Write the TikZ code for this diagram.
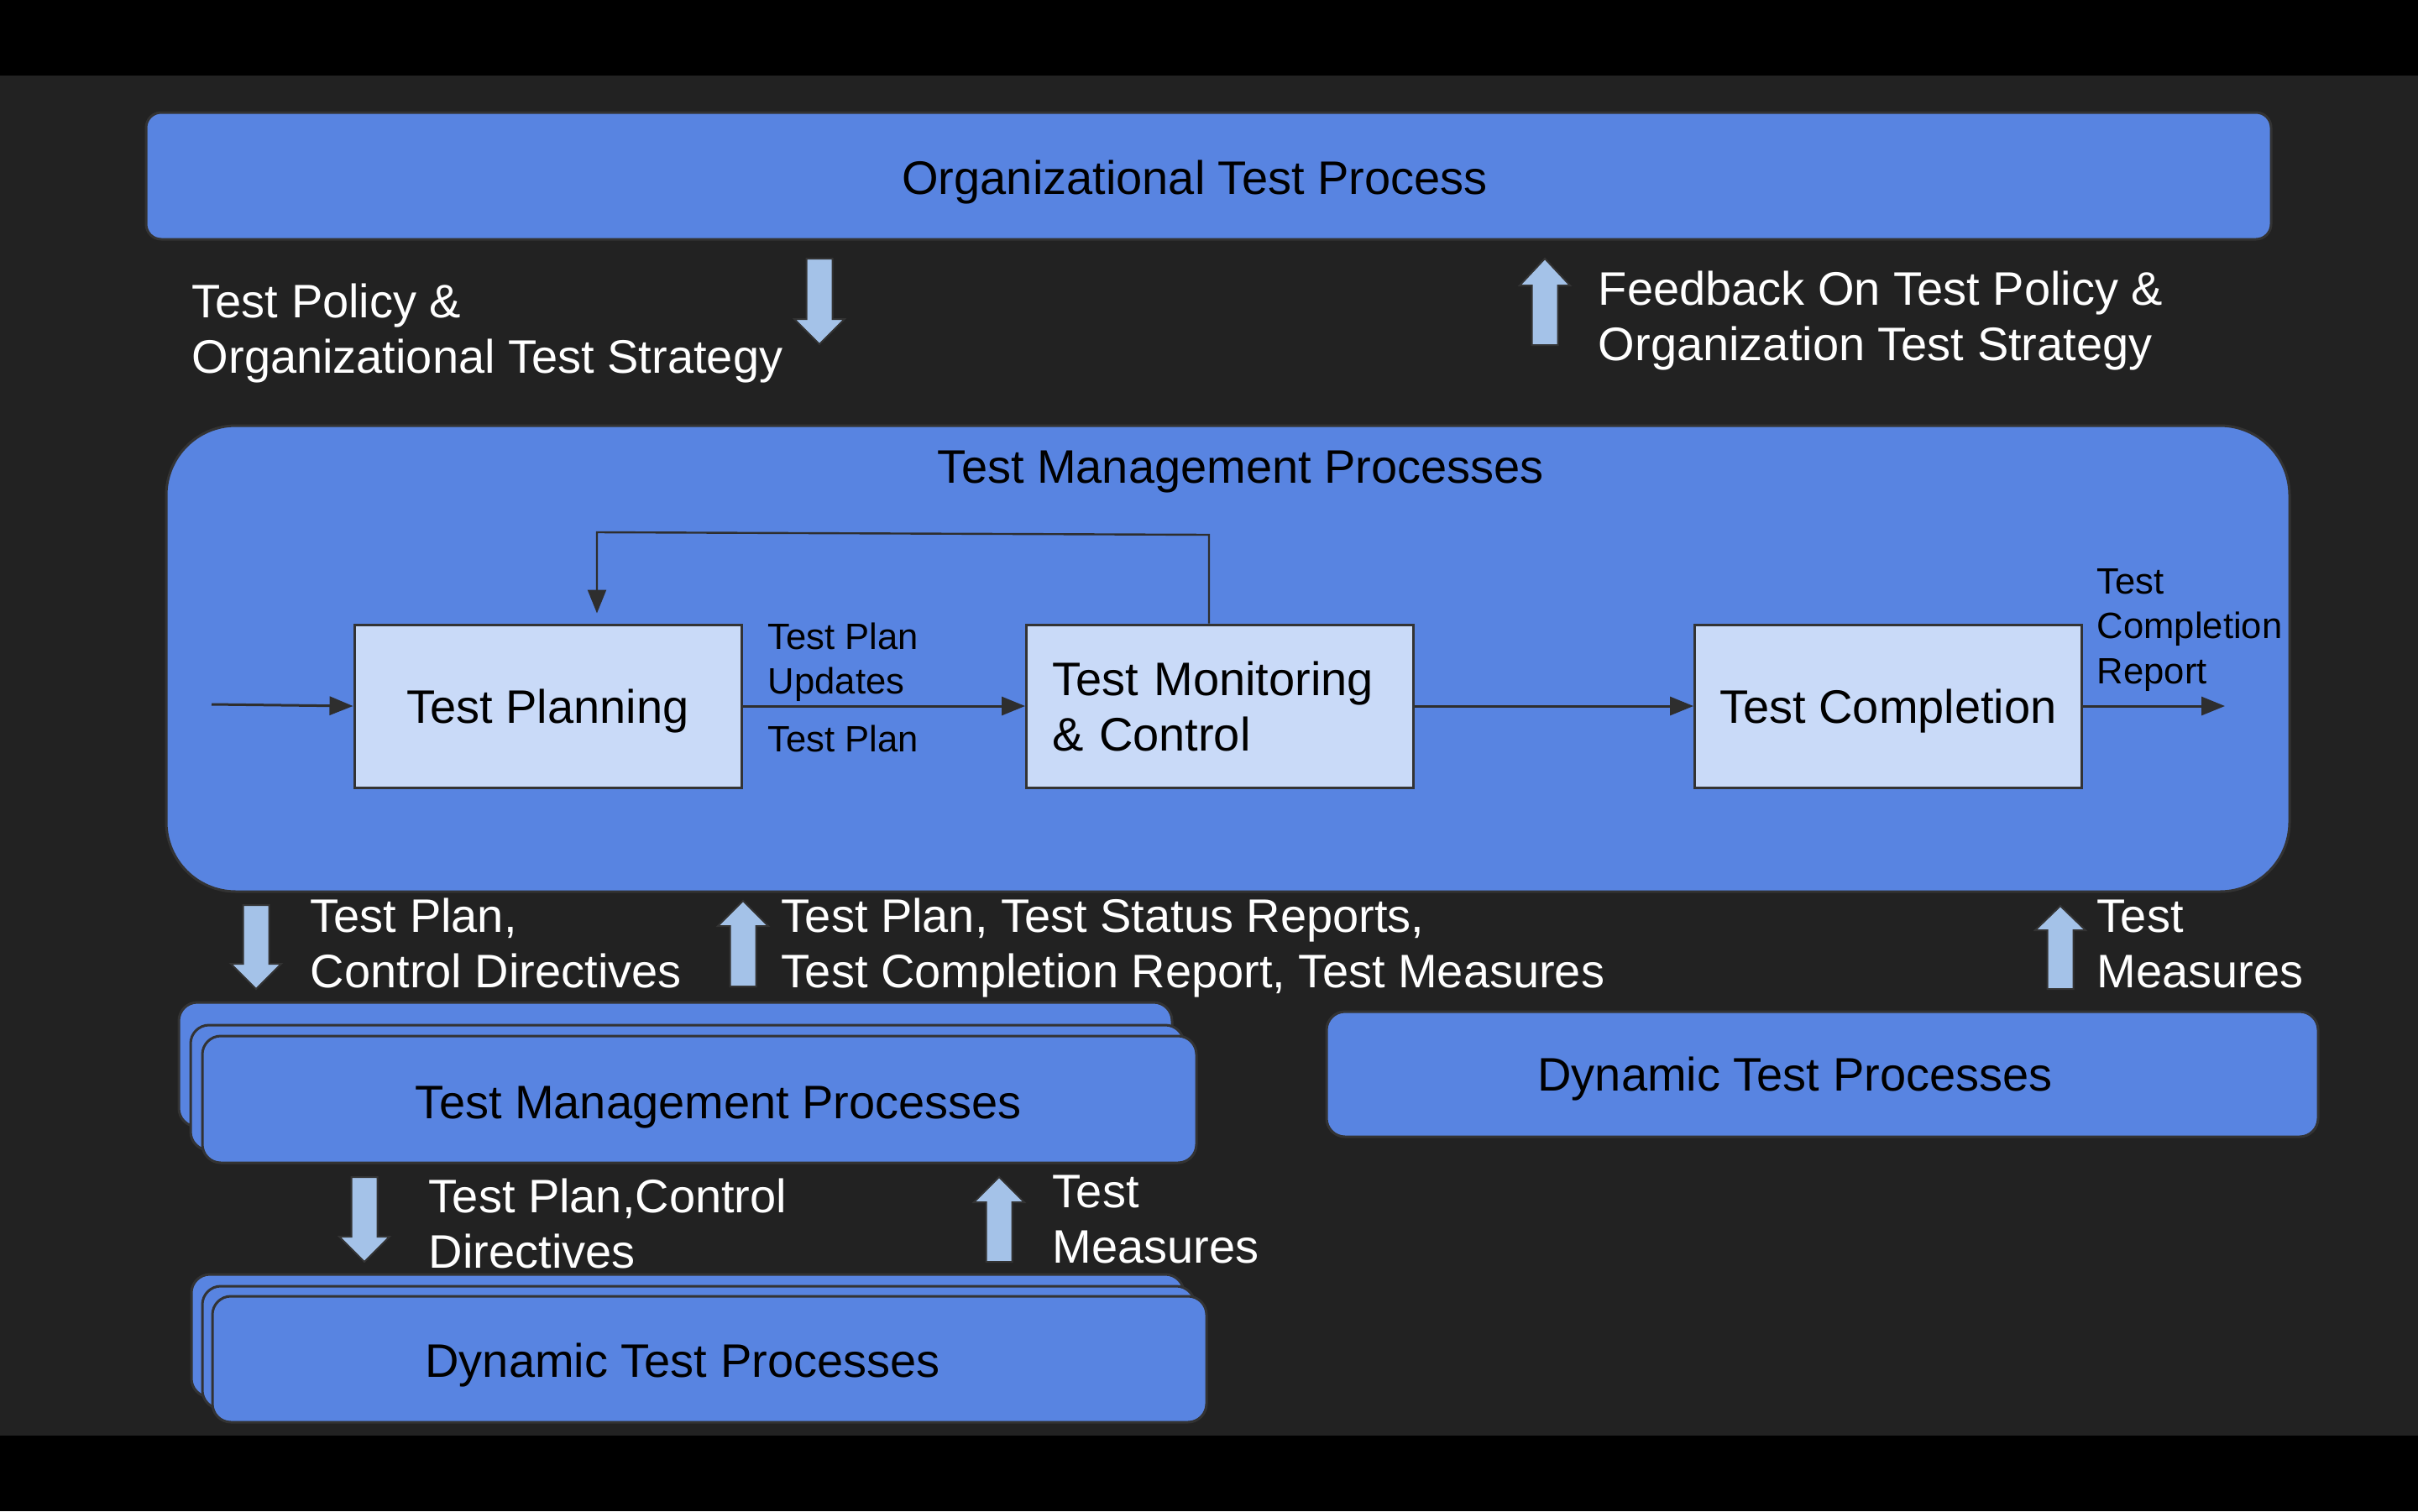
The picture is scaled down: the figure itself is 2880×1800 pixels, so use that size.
\documentclass[tikz,border=0pt]{standalone}
\usepackage{fontspec}
\setmainfont{Liberation Sans}
\usetikzlibrary{arrows.meta,fit}
\definecolor{bgdark}{HTML}{222222}
\definecolor{boxblue}{HTML}{5884E1}
\definecolor{lightbox}{HTML}{C9DAF8}
\definecolor{arrowblue}{HTML}{A4C2E8}
\definecolor{edgedark}{HTML}{333333}
\definecolor{linedark}{HTML}{2E2E2E}
\tikzset{
 bluebox/.style={fill=boxblue, draw=edgedark, line width=0.75pt, inner sep=0pt},
 stackbox/.style={bluebox, rounded corners=5.5pt},
 bigtext/.style={font=\fontsize{14}{16.5}\selectfont, inner sep=0pt},
 smalltext/.style={font=\fontsize{10.9}{13.4}\selectfont, inner sep=0pt},
 procbox/.style={bigtext, fill=lightbox, draw=edgedark, line width=0.75pt, minimum width=115.25pt, minimum height=48.5pt},
 whitetext/.style={bigtext, text=white, anchor=base west},
 labeltext/.style={smalltext, anchor=base west},
 conn/.style={draw=linedark, line width=0.75pt, -{Triangle[length=7pt,width=5.5pt]}},
 loopconn/.style={draw=linedark, line width=0.6pt, -{Triangle[length=7pt,width=5.5pt]}},
 blockarrow/.style={fill=arrowblue, draw=edgedark, line width=0.5pt},
}
\newcommand{\blockarr}[4]{%
 \path[blockarrow] ({#1-15.5},#2) -- ({#1+15.5},#2) -- ({#1+15.5},#3) -- ({#1+30},#3) -- (#1,#4) -- ({#1-30},#3) -- ({#1-15.5},#3) -- cycle;}
\begin{document}
\begin{tikzpicture}[x=0.25pt,y=-0.25pt]
\useasboundingbox (0,0) rectangle (2880,1800);
\fill[black] (0,0) rectangle (2880,1800);
\fill[bgdark] (0,90) rectangle (2880,1710);

% Organizational Test Process
\node[bluebox, rounded corners=4.5pt, fit={(174,134)(2705,285)}] (org) {};
\node[bigtext, anchor=base] (orgtext) at (1423,231) {Organizational Test Process};

\node[whitetext] (policy) at (228,378) {\begin{tabular}[t]{@{}l@{}}Test Policy \&\\Organizational Test Strategy\end{tabular}};
\blockarr{976}{308}{380}{410}
\blockarr{1840}{411}{340}{308}
\node[whitetext] (feedback) at (1903,363) {\begin{tabular}[t]{@{}l@{}}Feedback On Test Policy \&\\Organization Test Strategy\end{tabular}};

% Test Management Processes (big)
\node[bluebox, rounded corners=20.75pt, fit={(198,507)(2727,1062)}] (tmp) {};
\node[bigtext, anchor=base] (tmptitle) at (1478,575) {Test Management Processes};

\node[procbox, text depth=0pt] (tp) at (652.5,841) {Test Planning};
\node[procbox, text width=100pt, align=left] (tmc) at (1453,841) {Test Monitoring\\\& Control};
\node[procbox, text depth=0pt] (tc) at (2249,841) {Test Completion};

\node[labeltext] (lblupd) at (914,773) {\begin{tabular}[t]{@{}l@{}}Test Plan\\Updates\end{tabular}};
\node[labeltext] (lblplan) at (914,895) {Test Plan};
\node[labeltext] (lblreport) at (2497,707) {\begin{tabular}[t]{@{}l@{}}Test\\Completion\\Report\end{tabular}};

\coordinate (in) at (252,839);
\coordinate (out) at (2650,841);
\coordinate (loopA) at (1440,637);
\coordinate (loopB) at (711,634);
\draw[conn] (in) -- (tp.west);
\draw[conn] (tp.east) -- (tmc.west);
\draw[conn] (tmc.east) -- (tc.west);
\draw[conn] (tc.east) -- (out);
\draw[loopconn, shorten >=3pt] (tmc.north -| loopA) -- (loopA) -- (loopB) -- (loopB |- tp.north);

% Middle row
\blockarr{305}{1078}{1148}{1178}
\node[whitetext] (tpcd) at (369,1110) {\begin{tabular}[t]{@{}l@{}}Test Plan,\\Control Directives\end{tabular}};
\blockarr{885}{1175}{1103}{1073}
\node[whitetext] (reports) at (930,1110) {\begin{tabular}[t]{@{}l@{}}Test Plan, Test Status Reports,\\Test Completion Report, Test Measures\end{tabular}};
\blockarr{2454}{1178}{1108}{1079}
\node[whitetext] (measR) at (2497,1110) {\begin{tabular}[t]{@{}l@{}}Test\\Measures\end{tabular}};

% Stacked Test Management Processes
\node[stackbox, fit={(213,1194)(1396,1342)}] (tmsback) {};
\node[stackbox, fit={(227,1221)(1410,1370)}] (tmsmid) {};
\node[stackbox, fit={(241,1234)(1425,1385)}] (tmsfront) {};
\node[bigtext, anchor=base] (tmstext) at (856,1332) {Test Management Processes};

% Dynamic Test Processes (right)
\node[stackbox, fit={(1580,1205)(2761,1354)}] (dtpr) {};
\node[bigtext, anchor=base] (dtprtext) at (2138,1299) {Dynamic Test Processes};

% Lower row
\blockarr{434}{1402}{1473}{1503}
\node[whitetext] (tpcd2) at (510,1444) {\begin{tabular}[t]{@{}l@{}}Test Plan,Control\\Directives\end{tabular}};
\blockarr{1190}{1503}{1432}{1402}
\node[whitetext] (meas2) at (1253,1438) {\begin{tabular}[t]{@{}l@{}}Test\\Measures\end{tabular}};

% Stacked Dynamic Test Processes
\node[stackbox, fit={(228,1518)(1410,1664)}] (dtsback) {};
\node[stackbox, fit={(241,1532)(1423,1678)}] (dtsmid) {};
\node[stackbox, fit={(253,1544)(1437,1694)}] (dtsfront) {};
\node[bigtext, anchor=base] (dtstext) at (813,1640) {Dynamic Test Processes};
\end{tikzpicture}
\end{document}
